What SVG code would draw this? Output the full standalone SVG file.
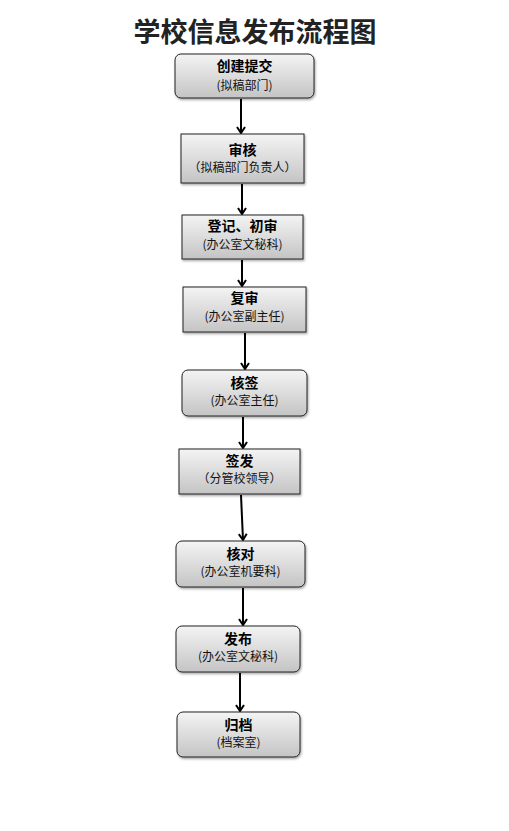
<svg xmlns="http://www.w3.org/2000/svg" width="509" height="831" viewBox="0 0 509 831">
<defs>
<linearGradient id="g" x1="0" y1="0" x2="0" y2="1">
<stop offset="0" stop-color="#f4f4f4"/>
<stop offset="1" stop-color="#c4c4c4"/>
</linearGradient>
<filter id="sh" x="-10%" y="-10%" width="125%" height="140%">
<feDropShadow dx="1" dy="1.5" stdDeviation="1" flood-color="#000" flood-opacity="0.35"/>
</filter>
<marker id="ah" markerWidth="10" markerHeight="10" viewBox="0 0 10 10" refX="9" refY="5" orient="auto" markerUnits="userSpaceOnUse">
<path d="M3,1 L9,5 L3,9" fill="none" stroke="#000" stroke-width="2"/>
</marker>
</defs>
<style>
.box{fill:url(#g);stroke:#222;stroke-width:1;filter:url(#sh)}
.t{font-family:"Noto Sans CJK SC",sans-serif;font-weight:bold;font-size:14px;fill:#000;text-anchor:middle}
.s{font-family:"Noto Sans CJK SC",sans-serif;font-size:12px;fill:#111;text-anchor:middle}
.title{font-family:"Liberation Serif","Noto Sans CJK SC",serif;font-weight:bold;font-size:27px;fill:#222;text-anchor:middle}
.c{stroke:#000;stroke-width:2;fill:none;marker-end:url(#ah)}
</style>
<rect width="509" height="831" fill="#fff"/>
<text class="title" x="255" y="42">学校信息发布流程图</text>
<g id="connectors">
<line class="c" x1="241" y1="99" x2="241" y2="133"/>
<line class="c" x1="242" y1="184" x2="242" y2="214"/>
<line class="c" x1="242" y1="260" x2="242" y2="286"/>
<line class="c" x1="245" y1="333" x2="245" y2="369"/>
<line class="c" x1="243" y1="417" x2="243" y2="448"/>
<line class="c" x1="241" y1="495" x2="243" y2="540"/>
<line class="c" x1="243" y1="588" x2="243" y2="625"/>
<line class="c" x1="240" y1="673" x2="240" y2="711"/>
</g>
<g id="n1"><rect class="box" x="175" y="54" width="139" height="44" rx="6"/><text class="t" x="244.5" y="71">创建提交</text><text class="s" x="244.5" y="90">(拟稿部门)</text></g>
<g id="n2"><rect class="box" x="181" y="134" width="123" height="49"/><text class="t" x="242.5" y="155">审核</text><text class="s" x="242.5" y="172">（拟稿部门负责人）</text></g>
<g id="n3"><rect class="box" x="182" y="215" width="121" height="44"/><text class="t" x="242.5" y="231">登记、初审</text><text class="s" x="242.5" y="249">(办公室文秘科)</text></g>
<g id="n4"><rect class="box" x="183" y="287" width="123" height="45"/><text class="t" x="244.5" y="303">复审</text><text class="s" x="244.5" y="321">(办公室副主任)</text></g>
<g id="n5"><rect class="box" x="182" y="370" width="125" height="46" rx="6"/><text class="t" x="244.5" y="388">核签</text><text class="s" x="244.5" y="405">(办公室主任)</text></g>
<g id="n6"><rect class="box" x="179" y="449" width="121" height="45"/><text class="t" x="239.5" y="466">签发</text><text class="s" x="239.5" y="483">（分管校领导）</text></g>
<g id="n7"><rect class="box" x="176" y="541" width="129" height="46" rx="6"/><text class="t" x="240.5" y="559">核对</text><text class="s" x="240.5" y="576">(办公室机要科)</text></g>
<g id="n8"><rect class="box" x="176" y="626" width="124" height="46" rx="6"/><text class="t" x="238" y="644">发布</text><text class="s" x="238" y="661">(办公室文秘科)</text></g>
<g id="n9"><rect class="box" x="177" y="712" width="123" height="45" rx="6"/><text class="t" x="238.5" y="730">归档</text><text class="s" x="238.5" y="747">(档案室)</text></g>
</svg>
